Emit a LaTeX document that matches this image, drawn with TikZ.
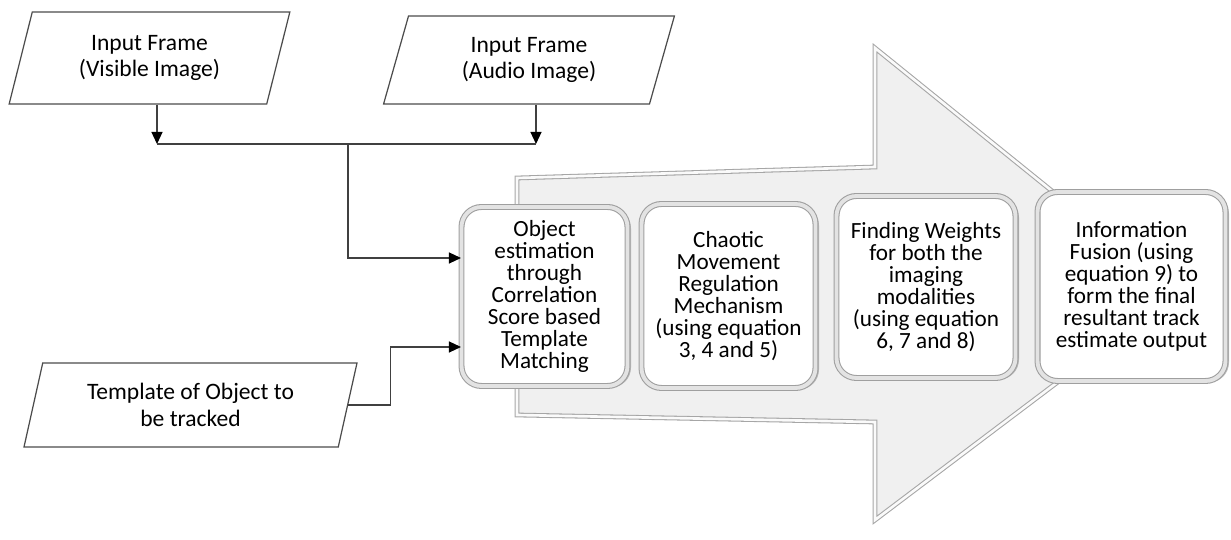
\documentclass[tikz,border=0pt]{standalone}
\usepackage{fontspec}
\setmainfont{Carlito}
\usetikzlibrary{shapes.geometric,arrows.meta,shadows}

\begin{document}
\begin{tikzpicture}[
    inbox/.style={trapezium, trapezium left angle=73, trapezium right angle=107, trapezium stretches=true, draw=black!70, line width=0.7pt, fill=white, align=center, font=\fontsize{13.4}{15}\selectfont, inner sep=0pt},
    stepbox/.style={rounded corners=0.4cm, draw=gray!75, line width=0.6pt, double=gray!22, double distance=2.2pt, fill=white, align=center, font=\fontsize{13.2}{12.5}\selectfont, inner sep=0pt, drop shadow={shadow xshift=0.07cm, shadow yshift=-0.03cm, opacity=0.5}},
    conn/.style={draw=black!75, line width=0.7pt, -{Triangle[length=0.24cm, width=0.22cm, black]}},
    bigarrow/.style={draw=gray!70, line width=0.6pt, double=gray!4, double distance=1.5pt, line join=miter, fill=gray!12}
]
\useasboundingbox (0,0) rectangle (24.62,10.8);

\draw [bigarrow] (10.34,7.24) -- (17.5,7.46) -- (17.5,9.84) -- (23.54,4.96) -- (17.5,0.4) -- (17.5,2.36) -- (10.34,2.5) -- cycle;

\node (v) at (2.99,9.64) [inbox, minimum width=5.62cm, minimum height=1.84cm] {Input Frame\\(Visible Image)};
\node (a) at (10.58,9.6) [inbox, minimum width=5.84cm, minimum height=1.76cm] {Input Frame\\(Audio Image)};
\node (t) at (3.81,2.7) [inbox, minimum width=6.66cm, minimum height=1.68cm] {Template of Object to\\be tracked};

\node (o) at (10.89,4.87) [stepbox, minimum width=3.32cm, minimum height=3.58cm] {Object\\estimation\\through\\Correlation\\Score based\\Template\\Matching};
\node (c) at (14.57,4.88) [stepbox, minimum width=3.48cm, minimum height=3.68cm] {Chaotic\\Movement\\Regulation\\Mechanism\\(using equation\\3, 4 and 5)};
\node (f) at (18.52,5.06) [stepbox, minimum width=3.58cm, minimum height=3.64cm] {Finding Weights\\for both the\\imaging\\modalities\\(using equation\\6, 7 and 8)};
\node (i) at (22.63,5.07) [stepbox, minimum width=3.76cm, minimum height=3.78cm] {Information\\Fusion (using\\equation 9) to\\form the final\\resultant track\\estimate output};

\coordinate (j1) at (3.14,7.92);
\coordinate (j2) at (10.72,7.92);
\coordinate (j3) at (6.96,7.92);

\draw [conn] (v.south -| j1) -- (j1);
\draw [conn] (a.south -| j2) -- (j2);
\draw [draw=black!75, line width=0.7pt] (j1) -- (j2);
\draw [conn] (j3) |- ([yshift=0.77cm]o.west);
\draw [conn] (t.east) -- ++(0.84,0) |- ([yshift=-1.01cm]o.west);

\end{tikzpicture}
\end{document}
